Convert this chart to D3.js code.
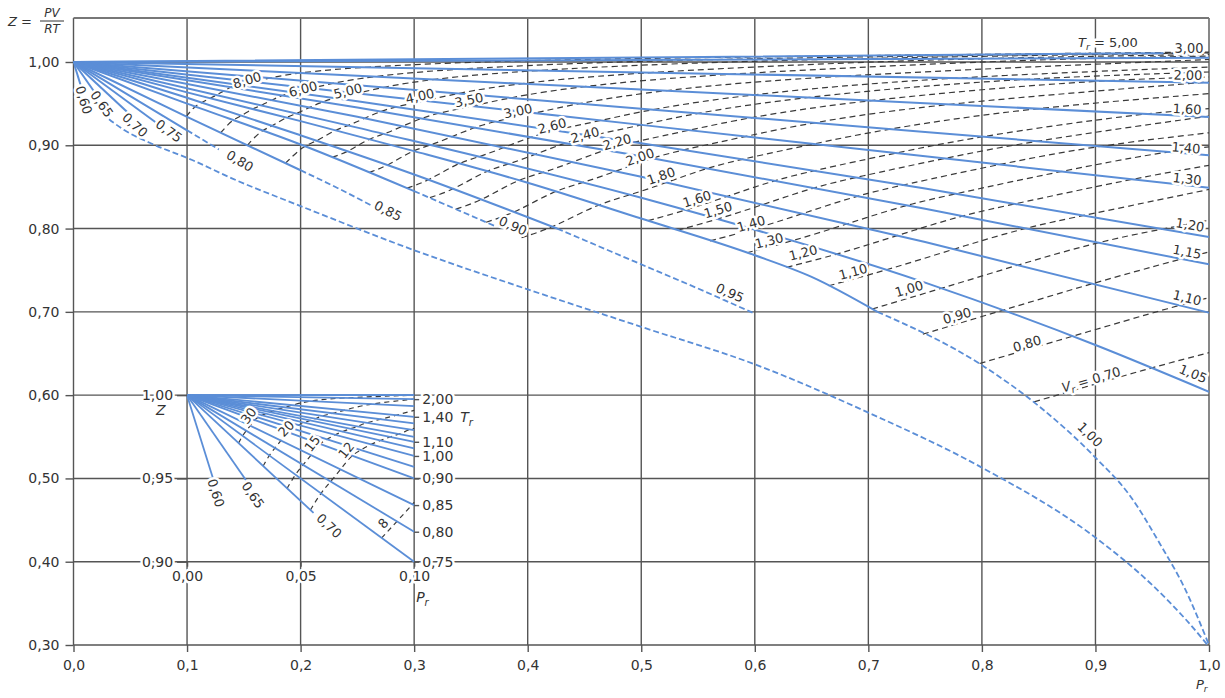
<!DOCTYPE html>
<html>
<head>
<meta charset="utf-8">
<script src="https://cdnjs.cloudflare.com/ajax/libs/d3/7.8.5/d3.min.js"></script>
<style>
body { margin: 0; background: #fff; }
svg text { font-family: "DejaVu Sans", sans-serif; fill: #333; }
.halo { paint-order: stroke; stroke: #fff; stroke-width: 5px; stroke-linejoin: round; }
</style>
</head>
<body>
<div id="chart"></div>
<script>
// ---- axes ----
const xTicks = [0, 0.1, 0.2, 0.3, 0.4, 0.5, 0.6, 0.7, 0.8, 0.9, 1.0];
const xTickLabels = ["0,0", "0,1", "0,2", "0,3", "0,4", "0,5", "0,6", "0,7", "0,8", "0,9", "1,0"];
const yTicks = [0.3, 0.4, 0.5, 0.6, 0.7, 0.8, 0.9, 1.0];
const yTickLabels = ["0,30", "0,40", "0,50", "0,60", "0,70", "0,80", "0,90", "1,00"];

// ---- isotherms T_r, main chart, [Pr, Z] ----
const trNames = ["5,00", "3,00", "2,00", "1,60", "1,40", "1,30", "1,20", "1,15", "1,10", "1,05",
                 "1,00", "0,95", "0,90", "0,85", "0,80", "0,75", "0,70", "0,65", "0,60"];
const trSolid = [
  [[0, 1], [0.5, 1.0055], [0.96, 1.0106]],
  [[0, 1], [0.5, 1.0025], [1, 1.005]],
  [[0, 1], [0.5, 0.9875], [1, 0.975]],
  [[0, 1], [0.5, 0.967], [1, 0.934]],
  [[0, 1], [0.5, 0.944], [1, 0.888]],
  [[0, 1], [0.5, 0.9245], [1, 0.849]],
  [[0, 1], [0.25, 0.953], [0.5, 0.9025], [0.75, 0.848], [1, 0.79]],
  [[0, 1], [0.25, 0.9454], [0.5, 0.8868], [0.75, 0.8239], [1, 0.757]],
  [[0, 1], [0.25, 0.9343], [0.5, 0.8622], [0.75, 0.7838], [1, 0.699]],
  [[0, 1], [0.25, 0.9212], [0.5, 0.8369], [0.75, 0.7351], [0.9, 0.6602], [1, 0.604]],
  [[0, 1], [0.1, 0.9635], [0.2, 0.929], [0.3, 0.893], [0.4, 0.855], [0.5, 0.812], [0.6, 0.768], [0.65, 0.742], [0.708, 0.70]],
  [[0, 1], [0.1, 0.957], [0.2, 0.912], [0.3, 0.865], [0.426, 0.80]],
  [[0, 1], [0.1, 0.95], [0.2, 0.901], [0.3, 0.845]],
  [[0, 1], [0.1, 0.934], [0.2, 0.87]],
  [[0, 1], [0.05, 0.959], [0.1, 0.918]],
  [[0, 1], [0.072, 0.928]],
  [[0, 1], [0.048, 0.939]],
  [[0, 1], [0.02, 0.961]],
  [[0, 1], [0.0068, 0.970]]
];
const trDashed = [
  null, null, null, null, null, null, null, null, null, null,
  [[0.708, 0.70], [0.8, 0.636], [0.85, 0.587], [0.9, 0.525], [0.93, 0.48], [0.957, 0.421], [0.979, 0.367], [1.0, 0.30]],
  [[0.426, 0.80], [0.5, 0.757], [0.55, 0.728], [0.598, 0.699]],
  [[0.3, 0.845], [0.372, 0.8025]],
  [[0.2, 0.87], [0.235, 0.847], [0.262, 0.828]],
  [[0.1, 0.918], [0.128, 0.895]],
  null, null, null, null
];
const trLabelPos = [
  [0.911, 1.024], [0.9824, 1.0168], [0.9815, 0.9844], [0.9807, 0.9436], [0.9798, 0.8969],
  [0.9807, 0.8597], [0.9833, 0.8046], [0.9807, 0.7722], [0.9807, 0.717], [0.986, 0.6259],
  [0.8952, 0.5528], [0.5781, 0.723], [0.387, 0.8034], [0.277, 0.8213], [0.1466, 0.8813],
  [0.0841, 0.9173], [0.0542, 0.9245], [0.0251, 0.9496], [0.0092, 0.9544]
];

// saturated vapour line
const satLine = [[0.025, 0.938], [0.045, 0.918], [0.067, 0.903], [0.105, 0.882], [0.14, 0.86], [0.2, 0.827],
  [0.3, 0.774], [0.4, 0.727], [0.5, 0.682], [0.6, 0.637], [0.7, 0.579], [0.8, 0.513], [0.9, 0.429],
  [0.95, 0.372], [0.98, 0.33], [1.0, 0.298]];

// ---- ideal reduced volume V_r, main chart ----
const vrNames = ["8,00", "6,00", "5,00", "4,00", "3,50", "3,00", "2,60", "2,40", "2,20", "2,00", "1,80",
                 "1,60", "1,50", "1,40", "1,30", "1,20", "1,10", "1,00", "0,90", "0,80", "V_r = 0,70"];
const vrLines = [
  [[0.0993, 0.9345], [0.1065, 0.9467], [0.113, 0.9514], [0.1195, 0.956], [0.126, 0.96], [0.1328, 0.9659], [0.1395, 0.9705], [0.146, 0.9735], [0.1586, 0.976], [0.1716, 0.9808], [0.1974, 0.987], [0.2484, 0.9938], [0.3757, 1.0019], [0.629, 1.0069], [1.0, 1.012]],
  [[0.1296, 0.915], [0.1396, 0.9306], [0.1481, 0.9353], [0.1573, 0.9438], [0.1659, 0.948], [0.175, 0.9546], [0.184, 0.96], [0.1928, 0.964], [0.2098, 0.9683], [0.2274, 0.9745], [0.262, 0.9827], [0.3306, 0.9917], [0.5013, 1.0025], [0.841, 1.009], [1.0, 1.011]],
  [[0.153, 0.90], [0.1652, 0.918], [0.1754, 0.923], [0.1867, 0.9336], [0.197, 0.938], [0.2081, 0.9458], [0.219, 0.952], [0.2297, 0.957], [0.2502, 0.9622], [0.2715, 0.9696], [0.3134, 0.9793], [0.396, 0.99], [0.6017, 1.003], [1.0, 1.011]],
  [[0.1867, 0.8785], [0.2024, 0.8996], [0.2149, 0.905], [0.2296, 0.9183], [0.2424, 0.9236], [0.2565, 0.9327], [0.2705, 0.9408], [0.284, 0.9465], [0.3098, 0.9532], [0.3368, 0.9623], [0.3897, 0.9743], [0.4938, 0.9877], [0.753, 1.004], [1.0, 1.009]],
  [[0.2277, 0.8855], [0.2422, 0.8922], [0.2593, 0.9077], [0.2741, 0.9136], [0.2901, 0.9231], [0.3065, 0.9327], [0.3219, 0.939], [0.3517, 0.9469], [0.3828, 0.9571], [0.4438, 0.9707], [0.5634, 0.9859], [0.8608, 1.0043], [1.0, 1.007]],
  [[0.2602, 0.8673], [0.2773, 0.8757], [0.2979, 0.8938], [0.3151, 0.9002], [0.334, 0.9108], [0.3533, 0.9216], [0.3716, 0.929], [0.4067, 0.9386], [0.4435, 0.9503], [0.5152, 0.966], [0.6557, 0.9836], [1.0, 1.003]],
  [[0.2937, 0.8485], [0.3135, 0.858], [0.3379, 0.8786], [0.3579, 0.8862], [0.3797, 0.8976], [0.4025, 0.91], [0.4238, 0.9184], [0.4649, 0.9298], [0.5079, 0.9431], [0.5914, 0.961], [0.7547, 0.9811], [1.0, 0.994]],
  [[0.3139, 0.8372], [0.3352, 0.8468], [0.3622, 0.8693], [0.3838, 0.8774], [0.4077, 0.8896], [0.4327, 0.903], [0.4559, 0.9118], [0.5008, 0.9244], [0.5476, 0.9387], [0.6386, 0.9579], [0.8163, 0.9796], [1.0, 0.988]],
  [[0.3368, 0.8233], [0.3601, 0.834], [0.3903, 0.8587], [0.4139, 0.8671], [0.44, 0.88], [0.4676, 0.8946], [0.4932, 0.904], [0.5426, 0.9181], [0.5942, 0.9335], [0.694, 0.9542], [0.8889, 0.9778], [1.0, 0.982]],
  [[0.3634, 0.8076], [0.3891, 0.819], [0.4226, 0.8453], [0.4488, 0.855], [0.4779, 0.8689], [0.5087, 0.8847], [0.5367, 0.8946], [0.592, 0.9106], [0.6491, 0.9273], [0.7599, 0.9499], [1.0, 0.976]],
  [[0.3946, 0.789], [0.423, 0.8016], [0.4605, 0.829], [0.4902, 0.8402], [0.5229, 0.8555], [0.5576, 0.8728], [0.589, 0.8835], [0.651, 0.9014], [0.7155, 0.9198], [0.8396, 0.9446], [1.0, 0.962]],
  [[0.506, 0.8095], [0.5394, 0.822], [0.5769, 0.8391], [0.6167, 0.8579], [0.6525, 0.8698], [0.7237, 0.8907], [0.7969, 0.9107], [0.938, 0.938], [1.0, 0.944]],
  [[0.532, 0.798], [0.5678, 0.8112], [0.608, 0.8291], [0.6511, 0.8493], [0.6893, 0.8617], [0.7664, 0.8843], [0.845, 0.9054], [1.0, 0.935]],
  [[0.5606, 0.7853], [0.5992, 0.799], [0.6429, 0.8182], [0.6896, 0.8395], [0.7307, 0.8525], [0.8144, 0.877], [0.8993, 0.8993], [1.0, 0.915]],
  [[0.593, 0.771], [0.6342, 0.7852], [0.6818, 0.8058], [0.7329, 0.8285], [0.7772, 0.8419], [0.8688, 0.8688], [0.961, 0.8924], [1.0, 0.898]],
  [[0.628, 0.7535], [0.6728, 0.7689], [0.7258, 0.7918], [0.7817, 0.8157], [0.83, 0.83], [0.931, 0.8594], [1.0, 0.876]],
  [[0.665, 0.7313], [0.7159, 0.75], [0.7755, 0.7755], [0.8374, 0.801], [0.8899, 0.8158], [1.0, 0.847]],
  [[0.7033, 0.7034], [0.7646, 0.7282], [0.8322, 0.7566], [0.9015, 0.7839], [0.9596, 0.7997], [1.0, 0.81]],
  [[0.748, 0.6732], [0.8192, 0.7022], [0.8976, 0.7344], [0.9758, 0.7637], [1.0, 0.772]],
  [[0.798, 0.638], [0.8808, 0.6711], [0.9737, 0.7082], [1.0, 0.717]],
  [[0.846, 0.592], [0.9499, 0.6333], [1.0, 0.651]]
];
const vrLabelPos = [
  [0.1528, 0.9784], [0.2021, 0.9676], [0.2417, 0.9652], [0.3051, 0.9592], [0.3482, 0.9544],
  [0.3914, 0.9412], [0.4214, 0.9233], [0.4505, 0.9125], [0.4787, 0.9041], [0.4989, 0.8861],
  [0.5174, 0.8633], [0.5491, 0.8357], [0.5676, 0.8225], [0.5967, 0.8058], [0.6125, 0.7854],
  [0.6425, 0.771], [0.6865, 0.7482], [0.7358, 0.7278], [0.7781, 0.6954], [0.8397, 0.6619],
  [0.8961, 0.6187]
];

// ---- inset (Pr 0 - 0.1, Z 0.90 - 1.00) ----
const insetXTicks = [0, 0.05, 0.1];
const insetXLabels = ["0,00", "0,05", "0,10"];
const insetYTicks = [0.9, 0.95, 1.0];
const insetYLabels = ["0,90", "0,95", "1,00"];
const insetTrEnds = [[0.1, 1.0], [0.1, 1.0], [0.1, 0.9976], [0.1, 0.9934], [0.1, 0.987], [0.1, 0.983],
  [0.1, 0.979], [0.1, 0.975], [0.1, 0.972], [0.1, 0.968], [0.1, 0.9635], [0.1, 0.957], [0.1, 0.95],
  [0.1, 0.934], [0.1, 0.918], [0.1, 0.90], [0.0557, 0.9293], [0.0259, 0.949], [0.0113, 0.9506]];
const insetRightNames = ["2,00", "1,40", "1,10", "1,00", "0,90", "0,85", "0,80", "0,75"];
const insetLowNames = ["0,70", "0,65", "0,60"];
const insetLowPos = [[0.0626, 0.9216], [0.0291, 0.940], [0.0128, 0.9413]];
const insetVrNames = ["30", "20", "15", "12", "8"];
const insetVrLines = [
  [[0.02266, 0.97122], [0.02439, 0.97561], [0.0261, 0.9786], [0.02781, 0.98164], [0.02956, 0.98522], [0.03124, 0.98657], [0.03293, 0.98798], [0.03461, 0.98892], [0.03629, 0.98984], [0.03797, 0.99051], [0.03967, 0.99167], [0.04302, 0.99269], [0.04638, 0.99397], [0.05315, 0.99649], [0.06656, 0.9984], [0.1, 1.0]],
  [[0.03351, 0.95744], [0.03614, 0.96386], [0.03873, 0.96824], [0.04134, 0.97271], [0.04401, 0.978], [0.04655, 0.97998], [0.0491, 0.98208], [0.05163, 0.98348], [0.05417, 0.98483], [0.05669, 0.98583], [0.05925, 0.98756], [0.06429, 0.98907], [0.06937, 0.99098], [0.07958, 0.99475], [0.1, 0.9976]],
  [[0.04406, 0.94405], [0.04762, 0.95238], [0.0511, 0.9581], [0.05462, 0.96395], [0.05825, 0.97088], [0.06166, 0.97349], [0.06508, 0.97625], [0.06847, 0.97809], [0.07186, 0.97988], [0.07523, 0.98119], [0.07868, 0.98348], [0.08541, 0.98548], [0.09222, 0.98801], [0.1, 0.9909]],
  [[0.05431, 0.93103], [0.05882, 0.94118], [0.06321, 0.94817], [0.06767, 0.95534], [0.07229, 0.96385], [0.07656, 0.96708], [0.08087, 0.97048], [0.08512, 0.97276], [0.08937, 0.97498], [0.09359, 0.9766], [0.09794, 0.97943], [0.1, 0.98]],
  [[0.08571, 0.91429], [0.09242, 0.92421], [0.09929, 0.93447], [0.1, 0.9357]]
];
const insetVrLabelPos = [[0.0271, 0.9877], [0.0436, 0.98], [0.0551, 0.971], [0.070, 0.967], [0.0863, 0.923]];

// ---------------------------------------------------------------
const blue = "#5b8ed7";
const gridColor = "#555";
const plot = {left: 73.5, right: 1209, top: 18, bottom: 645};

const svg = d3.select("#chart").append("svg")
  .attr("width", 1225)
  .attr("height", 698);

const x = d3.scaleLinear().domain([0, 1]).range([plot.left, plot.right]);
const y = d3.scaleLinear().domain([0.3, 1.0]).range([plot.bottom, 62]);

// inset sits in the cell Pr 0.1-0.3, Z 0.4-0.6
const xi = d3.scaleLinear().domain([0, 0.1]).range([x(0.1), x(0.3)]);
const yi = d3.scaleLinear().domain([0.9, 1.0]).range([y(0.4), y(0.6)]);

function interp(pts, p) {
  let i = d3.bisector(d => d[0]).left(pts, p) - 1;
  i = Math.max(0, Math.min(pts.length - 2, i));
  const a = pts[i], b = pts[i + 1];
  return a[1] + (p - a[0]) / (b[0] - a[0]) * (b[1] - a[1]);
}
function angleOn(pts, p, dp, sx, sy) {
  const p0 = p - dp, p1 = p + dp;
  let ang = Math.atan2(sy(interp(pts, p1)) - sy(interp(pts, p0)), sx(p1) - sx(p0)) * 180 / Math.PI;
  if (ang > 90) ang -= 180;
  if (ang < -90) ang += 180;
  return ang;
}
function addLabel(g, txt, px, py, ang, size) {
  const t = g.append("text")
    .attr("class", "halo")
    .attr("transform", "translate(" + px + "," + py + ") rotate(" + ang + ")")
    .attr("text-anchor", "middle")
    .attr("dy", "0.36em")
    .attr("font-size", size);
  if (txt.indexOf("_r") === 1) {
    t.append("tspan").attr("font-style", "italic").text(txt[0]);
    t.append("tspan").attr("font-style", "italic").attr("font-size", size * 0.72).attr("dy", 3).text("r");
    t.append("tspan").attr("dy", -3).text(txt.slice(3));
  } else {
    t.text(txt);
  }
  return t;
}

// grid
const grid = svg.append("g").attr("stroke", gridColor).attr("stroke-width", 1.4);
grid.selectAll("line.v").data(xTicks).join("line").attr("class", "v")
  .attr("x1", d => x(d)).attr("x2", d => x(d))
  .attr("y1", plot.top).attr("y2", plot.bottom);
grid.selectAll("line.h").data(yTicks).join("line").attr("class", "h")
  .attr("x1", plot.left).attr("x2", plot.right)
  .attr("y1", d => y(d)).attr("y2", d => y(d));
grid.append("line")
  .attr("x1", plot.left).attr("x2", plot.right)
  .attr("y1", plot.top).attr("y2", plot.top)
  .attr("stroke", "#777").attr("stroke-width", 1.8);

// axes
const xAxis = svg.append("g")
  .attr("transform", "translate(0," + plot.bottom + ")")
  .call(d3.axisBottom(x).tickValues(xTicks).tickFormat((d, i) => xTickLabels[i]).tickSize(7).tickPadding(8));
const yAxis = svg.append("g")
  .attr("transform", "translate(" + plot.left + ",0)")
  .call(d3.axisLeft(y).tickValues(yTicks).tickFormat((d, i) => yTickLabels[i]).tickSize(8).tickPadding(6));
[xAxis, yAxis].forEach(a => {
  a.select(".domain").remove();
  a.selectAll("line").attr("stroke", gridColor).attr("stroke-width", 1.4);
  a.selectAll("text").attr("font-size", 14).attr("fill", "#333");
});

// axis titles
svg.append("text").attr("x", 8).attr("y", 26).attr("font-size", 13)
  .html('<tspan font-style="italic">Z</tspan> =');
svg.append("text").attr("x", 52).attr("y", 17).attr("font-size", 12).attr("font-style", "italic")
  .attr("text-anchor", "middle").text("PV");
svg.append("line").attr("x1", 40).attr("x2", 64).attr("y1", 21).attr("y2", 21)
  .attr("stroke", "#333").attr("stroke-width", 1);
svg.append("text").attr("x", 52).attr("y", 33).attr("font-size", 12).attr("font-style", "italic")
  .attr("text-anchor", "middle").text("RT");
svg.append("text").attr("x", 1196).attr("y", 689).attr("font-size", 13)
  .html('<tspan font-style="italic">P</tspan><tspan font-style="italic" font-size="9" dy="3">r</tspan>');

// main curves
svg.append("clipPath").attr("id", "plotClip").append("rect")
  .attr("x", plot.left).attr("y", plot.top)
  .attr("width", plot.right - plot.left).attr("height", plot.bottom - plot.top);
const main = svg.append("g").attr("clip-path", "url(#plotClip)");

const smooth = d3.line().x(d => x(d[0])).y(d => y(d[1])).curve(d3.curveBasis);
const mono = d3.line().x(d => x(d[0])).y(d => y(d[1])).curve(d3.curveMonotoneX);

main.selectAll("path.vr").data(vrLines).join("path")
  .attr("class", "vr")
  .attr("d", smooth)
  .attr("fill", "none")
  .attr("stroke", "#3a3a3a")
  .attr("stroke-width", 1.2)
  .attr("stroke-dasharray", "6,4");

main.append("path")
  .datum(satLine)
  .attr("d", mono)
  .attr("fill", "none")
  .attr("stroke", blue)
  .attr("stroke-width", 1.8)
  .attr("stroke-dasharray", "6,3");

main.selectAll("path.trd").data(trDashed.filter(d => d)).join("path")
  .attr("class", "trd")
  .attr("d", mono)
  .attr("fill", "none")
  .attr("stroke", blue)
  .attr("stroke-width", 1.8)
  .attr("stroke-dasharray", "6,3");

main.selectAll("path.trs").data(trSolid).join("path")
  .attr("class", "trs")
  .attr("d", mono)
  .attr("fill", "none")
  .attr("stroke", blue)
  .attr("stroke-width", 2);

// labels
const labels = svg.append("g");
vrNames.forEach((name, i) => {
  const p = vrLabelPos[i];
  const ang = angleOn(vrLines[i], p[0], 0.025, x, y);
  addLabel(labels, name, x(p[0]), y(p[1]), ang, 13);
});
trNames.forEach((name, i) => {
  const p = trLabelPos[i];
  const pts = trDashed[i] ? trSolid[i].concat(trDashed[i].slice(1)) : trSolid[i];
  const ang = i === 0 ? 0 : angleOn(pts, p[0], Math.min(0.025, pts[pts.length - 1][0] / 2), x, y);
  addLabel(labels, i === 0 ? "T_r = " + name : name, x(p[0]), y(p[1]), ang, 13);
});

// ---- inset ----
const inset = svg.append("g");
const iline = d3.line().x(d => xi(d[0])).y(d => yi(d[1]));
const ismooth = d3.line().x(d => xi(d[0])).y(d => yi(d[1])).curve(d3.curveBasis);

inset.selectAll("path.ivr").data(insetVrLines).join("path")
  .attr("class", "ivr")
  .attr("d", ismooth)
  .attr("fill", "none")
  .attr("stroke", "#3a3a3a")
  .attr("stroke-width", 1.2)
  .attr("stroke-dasharray", "5,4");

inset.selectAll("path.itr").data(insetTrEnds).join("path")
  .attr("class", "itr")
  .attr("d", d => iline([[0, 1], d]))
  .attr("fill", "none")
  .attr("stroke", blue)
  .attr("stroke-width", 1.8);

const iLeft = inset.append("g")
  .attr("transform", "translate(" + xi(0) + ",0)")
  .call(d3.axisLeft(yi).tickValues(insetYTicks).tickFormat((d, i) => insetYLabels[i]).tickSize(10).tickPadding(4));
const iBottom = inset.append("g")
  .attr("transform", "translate(0," + yi(0.9) + ")")
  .call(d3.axisBottom(xi).tickValues(insetXTicks).tickFormat((d, i) => insetXLabels[i]).tickSize(5).tickPadding(4));
const rightZ = insetRightNames.map(n => insetTrEnds[trNames.indexOf(n)][1]);
const iRight = inset.append("g")
  .attr("transform", "translate(" + xi(0.1) + ",0)")
  .call(d3.axisRight(yi).tickValues(rightZ).tickFormat((d, i) => insetRightNames[i]).tickSize(5).tickPadding(3));
[iLeft, iBottom, iRight].forEach(a => {
  a.select(".domain").remove();
  a.selectAll("line").attr("stroke", gridColor).attr("stroke-width", 1.4);
  a.selectAll("text").attr("font-size", 14).attr("fill", "#333").attr("class", "halo");
});

inset.append("text").attr("x", xi(0) - 31).attr("y", yi(0.988)).attr("font-size", 14)
  .attr("font-style", "italic").text("Z");
inset.append("text").attr("x", xi(0.1) + 46).attr("y", yi(0.9866) + 5).attr("font-size", 14)
  .html('<tspan font-style="italic">T</tspan><tspan font-style="italic" font-size="10" dy="4">r</tspan>');
inset.append("text").attr("x", xi(0.1) + 2).attr("y", yi(0.9) + 40).attr("font-size", 14)
  .html('<tspan font-style="italic">P</tspan><tspan font-style="italic" font-size="10" dy="4">r</tspan>');

insetLowNames.forEach((name, i) => {
  const p = insetLowPos[i];
  const ends = insetTrEnds[trNames.indexOf(name)];
  const ang = angleOn([[0, 1], ends], p[0], 0.003, xi, yi);
  addLabel(inset, name, xi(p[0]), yi(p[1]), ang, 13);
});
insetVrNames.forEach((name, i) => {
  const p = insetVrLabelPos[i];
  const ang = angleOn(insetVrLines[i], p[0], 0.003, xi, yi);
  addLabel(inset, name, xi(p[0]), yi(p[1]), ang, 13);
});
</script>
</body>
</html>
